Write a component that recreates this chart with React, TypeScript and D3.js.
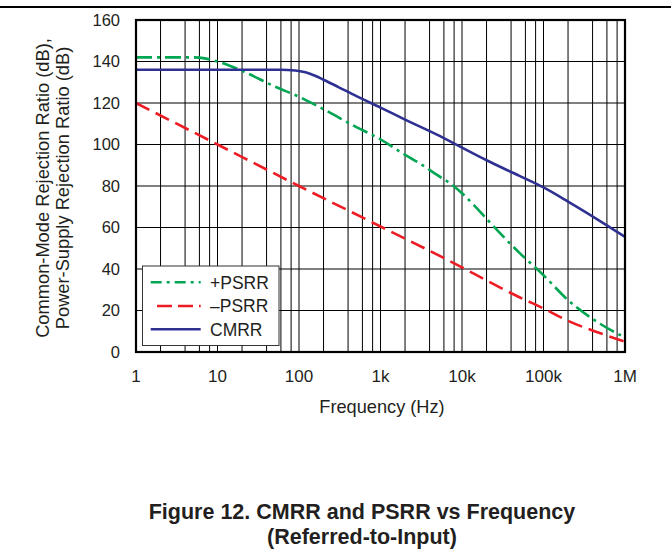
import React from "react";
import * as d3 from "d3";

const xTickValues = [1, 10, 100, 1e3, 1e4, 1e5, 1e6];
const xTickLabels = ["1", "10", "100", "1k", "10k", "100k", "1M"];
const yTickValues = [0, 20, 40, 60, 80, 100, 120, 140, 160];
const minorMultipliers = [2, 4, 6, 8];

const psrrPlusFreq = [1, 5, 7, 10, 20, 50, 100, 200, 500, 1e3, 2e3, 3e3, 5e3, 7e3, 1e4, 1.4e4, 2e4, 5e4, 1e5, 2e5, 5e5, 1e6];
const psrrPlusDb = [142, 142, 141.5, 140, 135.5, 128, 123, 117, 108.5, 102.5, 95, 91, 85.2, 81.5, 76.5, 70.8, 64.2, 48, 37, 25, 13.5, 7];

const psrrMinusFreq = [1, 10, 100, 1e3, 1e4, 2e4, 5e4, 1e5, 2e5, 5e5, 1e6];
const psrrMinusDb = [120, 100, 80, 60.5, 40.8, 34.5, 26.5, 21, 15, 9, 5];

const cmrrFreq = [1, 60, 90, 120, 160, 200, 300, 500, 1e3, 2e3, 5e3, 1e4, 2e4, 5e4, 1e5, 2e5, 5e5, 1e6];
const cmrrDb = [136, 136, 135.7, 134.8, 133, 131.2, 127.8, 123.4, 117.8, 112, 104.6, 98.5, 92.4, 85, 79.3, 72.5, 63, 55.5];

const seriesNames = ["+PSRR", "\u2013PSRR", "CMRR"];
const seriesColors = ["#00a651", "#ed1c24", "#2e3192"];
const seriesDash = ["16,5,3,5", "15,7", null];

const W = 671;
const H = 554;
const M = { left: 136, right: 625, top: 20, bottom: 352 };
const FONT = "Liberation Sans, Arial, sans-serif";
const TXT = "#231f20";

export default function App() {
  const x = d3.scaleLog().domain([1, 1e6]).range([M.left, M.right]);
  const y = d3.scaleLinear().domain([0, 160]).range([M.bottom, M.top]);

  const minorTicks: number[] = [];
  for (let d = 0; d < 6; d++) {
    for (const m of minorMultipliers) minorTicks.push(m * Math.pow(10, d));
  }

  const line = d3
    .line<[number, number]>()
    .x((d) => x(d[0]))
    .y((d) => y(d[1]))
    .curve(d3.curveMonotoneX);

  const series = [
    psrrPlusFreq.map((f, i) => [f, psrrPlusDb[i]] as [number, number]),
    psrrMinusFreq.map((f, i) => [f, psrrMinusDb[i]] as [number, number]),
    cmrrFreq.map((f, i) => [f, cmrrDb[i]] as [number, number]),
  ];

  const legend = { x: 142.5, y: 266, w: 136.5, h: 79.5 };
  const legendRows = [282.3, 306, 329.3];

  return (
    <svg
      width={W}
      height={H}
      style={{ position: "absolute", left: 0, top: 0, display: "block", background: "#fff" }}
      fontFamily={FONT}
    >
      <rect x={0} y={0} width={W} height={H} fill="#fff" />
      <line x1={0} x2={W} y1={7} y2={7} stroke="#000" strokeWidth={2} />

      {/* grid */}
      {[...xTickValues, ...minorTicks].map((v, i) => (
        <line key={"vx" + i} x1={x(v)} x2={x(v)} y1={M.top} y2={M.bottom} stroke="#000" strokeWidth={1} />
      ))}
      {yTickValues.map((v, i) => (
        <line key={"hy" + i} x1={M.left} x2={M.right} y1={y(v)} y2={y(v)} stroke="#000" strokeWidth={1} />
      ))}

      {/* curves */}
      {series.map((s, i) => (
        <path
          key={"s" + i}
          d={line(s) || ""}
          fill="none"
          stroke={seriesColors[i]}
          strokeWidth={2.6}
          strokeDasharray={seriesDash[i] || undefined}
        />
      ))}

      {/* frame */}
      <rect
        x={M.left}
        y={M.top}
        width={M.right - M.left}
        height={M.bottom - M.top}
        fill="none"
        stroke="#000"
        strokeWidth={2.2}
      />

      {/* legend */}
      <rect x={legend.x} y={legend.y} width={legend.w} height={legend.h} fill="#fff" stroke="#333" strokeWidth={1} />
      {seriesNames.map((n, i) => (
        <g key={"lg" + i}>
          <line
            x1={i === 1 ? 157 : 150.7}
            x2={200.7}
            y1={legendRows[i]}
            y2={legendRows[i]}
            stroke={seriesColors[i]}
            strokeWidth={2.6}
            strokeDasharray={i === 0 ? "11,5,3,5" : i === 1 ? "15,6" : undefined}
          />
          <text x={210} y={legendRows[i]} dy="0.36em" fontSize={17.5} fill={TXT}>
            {n}
          </text>
        </g>
      ))}

      {/* y tick labels */}
      {yTickValues.map((v, i) => (
        <text key={"yl" + i} x={120} y={y(v)} dy="0.36em" textAnchor="end" fontSize={16.5} fill={TXT}>
          {v}
        </text>
      ))}
      {/* x tick labels */}
      {xTickValues.map((v, i) => (
        <text key={"xl" + i} x={x(v)} y={376} dy="0.36em" textAnchor="middle" fontSize={17} fill={TXT}>
          {xTickLabels[i]}
        </text>
      ))}

      <text x={382} y={406} dy="0.36em" textAnchor="middle" fontSize={18.2} fill={TXT}>
        Frequency (Hz)
      </text>

      <g transform="translate(42,188) rotate(-90)">
        <text x={0} y={0} dy="0.36em" textAnchor="middle" fontSize={18.3} fill={TXT}>
          Common-Mode Rejection Ratio (dB),
        </text>
      </g>
      <g transform="translate(62,188) rotate(-90)">
        <text x={0} y={0} dy="0.36em" textAnchor="middle" fontSize={18.3} fill={TXT}>
          Power-Supply Rejection Ratio (dB)
        </text>
      </g>

      <text x={362} y={511} dy="0.36em" textAnchor="middle" fontSize={21.5} fontWeight="bold" fill={TXT}>
        Figure 12. CMRR and PSRR vs Frequency
      </text>
      <text x={362} y={536} dy="0.36em" textAnchor="middle" fontSize={21.5} fontWeight="bold" fill={TXT}>
        (Referred-to-Input)
      </text>
    </svg>
  );
}
